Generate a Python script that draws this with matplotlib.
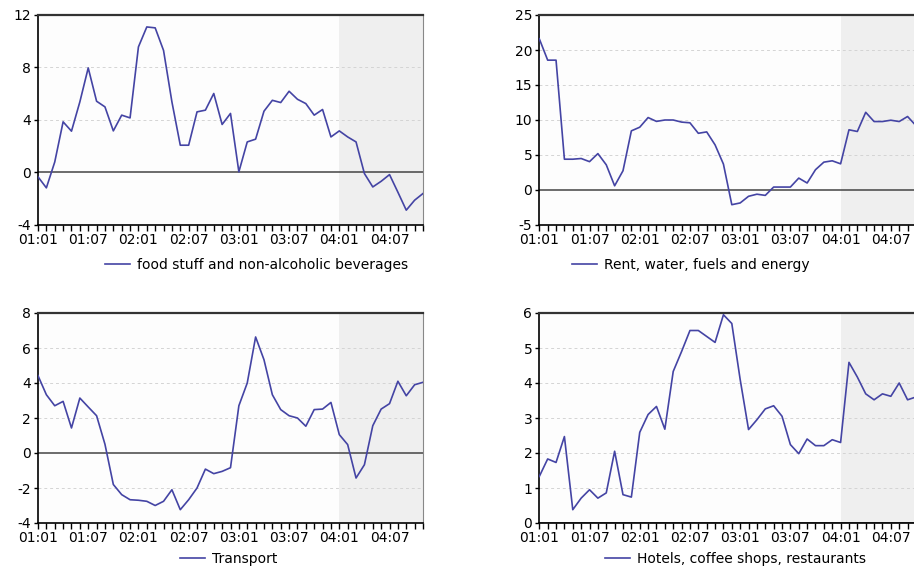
import matplotlib
matplotlib.use('Agg')
import matplotlib.pyplot as plt
from matplotlib.lines import Line2D
import numpy as np

# monthly observations 01:01 .. 04:11
periods = ['%02d:%02d' % (y, m) for y in range(1, 5) for m in range(1, 13)][:47]
tick_labels = ['01:01', '01:07', '02:01', '02:07', '03:01', '03:07', '04:01', '04:07']
shade_from = '04:01'

food = [-0.33, -1.17, 0.8, 3.86, 3.15, 5.38, 7.97, 5.43, 5.0, 3.17, 4.37, 4.16,
        9.57, 11.09, 11.02, 9.3, 5.38, 2.08, 2.08, 4.62, 4.75, 6.02, 3.66, 4.5,
        0.05, 2.33, 2.54, 4.67, 5.5, 5.33, 6.19, 5.58, 5.25, 4.37, 4.8, 2.71,
        3.17, 2.71, 2.33, -0.08, -1.1, -0.67, -0.16, -1.5, -2.87, -2.11, -1.6]

rent = [21.6, 18.55, 18.55, 4.4, 4.4, 4.5, 4.05, 5.2, 3.6, 0.6, 2.75, 8.45,
        8.97, 10.35, 9.8, 10.0, 10.0, 9.7, 9.6, 8.1, 8.3, 6.45, 3.7, -2.1,
        -1.85, -0.9, -0.6, -0.77, 0.42, 0.42, 0.42, 1.7, 1.0, 2.9, 3.98, 4.17,
        3.74, 8.6, 8.36, 11.1, 9.78, 9.78, 9.97, 9.78, 10.5, 9.2, 8.8]

transport = [4.42, 3.33, 2.7, 2.95, 1.43, 3.14, 2.63, 2.13, 0.5, -1.8, -2.38, -2.67,
             -2.7, -2.76, -3.0, -2.76, -2.1, -3.24, -2.67, -2.0, -0.92, -1.18, -1.05, -0.84,
             2.7, 4.0, 6.63, 5.33, 3.33, 2.48, 2.13, 2.0, 1.53, 2.48, 2.51, 2.89,
             1.05, 0.48, -1.43, -0.67, 1.56, 2.51, 2.82, 4.1, 3.27, 3.9, 4.04]

hotels = [1.33, 1.83, 1.73, 2.47, 0.38, 0.71, 0.95, 0.71, 0.86, 2.05, 0.81, 0.74,
          2.59, 3.1, 3.33, 2.68, 4.33, 4.9, 5.5, 5.5, 5.33, 5.16, 5.95, 5.7,
          4.1, 2.67, 2.95, 3.26, 3.35, 3.05, 2.24, 1.98, 2.4, 2.21, 2.21, 2.38,
          2.3, 4.59, 4.17, 3.69, 3.52, 3.69, 3.62, 4.0, 3.52, 3.6, 3.6]

panels = [
    (food, 'food stuff and non-alcoholic beverages', (-4, 12), [-4, 0, 4, 8, 12]),
    (rent, 'Rent, water, fuels and energy', (-5, 25), [-5, 0, 5, 10, 15, 20, 25]),
    (transport, 'Transport', (-4, 8), [-4, -2, 0, 2, 4, 6, 8]),
    (hotels, 'Hotels, coffee shops, restaurants', (0, 6), [0, 1, 2, 3, 4, 5, 6]),
]

# axes boxes in figure fractions; the right column runs past the page edge
W, H = 914.0, 569.0
boxes = [
    (38 / W, 1 - 225 / H, 385 / W, 210 / H),
    (539.3 / W, 1 - 225 / H, 385 / W, 210 / H),
    (38 / W, 1 - 523 / H, 385 / W, 210 / H),
    (539.3 / W, 1 - 523 / H, 385 / W, 210 / H),
]
legend_at = [(105, 265), (572, 265), (180, 559), (605, 559)]

line_color = '#4444a4'
plt.rcParams['font.family'] = ['DejaVu Sans']
plt.rcParams['axes.unicode_minus'] = False

fig = plt.figure(figsize=(9.14, 5.69), dpi=100)

x = np.arange(len(periods))
tick_pos = [periods.index(t) for t in tick_labels]
s0 = periods.index(shade_from)

for (vals, name, ylim, yticks), box, (lx, ly) in zip(panels, boxes, legend_at):
    ax = fig.add_axes(box)
    ax.set_facecolor('#fdfdfd')
    ax.axvspan(s0, x[-1], color='#efefef', lw=0, zorder=0)
    for yt in yticks[1:-1]:
        if yt != 0:
            ax.axhline(yt, color='#d4d4d4', lw=0.7, ls=(0, (3, 3)), zorder=1)
    ax.axhline(0, color='#444444', lw=1.1, zorder=2)
    ax.plot(x, vals, color=line_color, lw=1.2, zorder=3)

    ax.set_xlim(0, x[-1])
    ax.set_ylim(*ylim)
    ax.set_yticks(yticks)
    ax.set_xticks(tick_pos)
    ax.set_xticklabels(tick_labels)
    ax.set_xticks(x, minor=True)
    ax.tick_params(axis='both', which='both', direction='out', labelsize=10,
                   colors='black', width=1.0)
    ax.tick_params(axis='x', which='both', length=4, pad=2)
    ax.tick_params(axis='y', length=3, pad=2)

    ax.spines['left'].set_linewidth(1.2)
    ax.spines['bottom'].set_linewidth(1.2)
    ax.spines['top'].set_linewidth(1.6)
    ax.spines['top'].set_color('#333333')
    ax.spines['right'].set_color('#888888')

    h = Line2D([], [], color=line_color, lw=1.2)
    ax.legend([h], [name], loc='center left', bbox_to_anchor=(lx / W, 1 - ly / H),
              bbox_transform=fig.transFigure, frameon=False, fontsize=10,
              borderpad=0, borderaxespad=0, handlelength=1.8, handletextpad=0.5)

fig.savefig('out.png', dpi=100, facecolor='white')
